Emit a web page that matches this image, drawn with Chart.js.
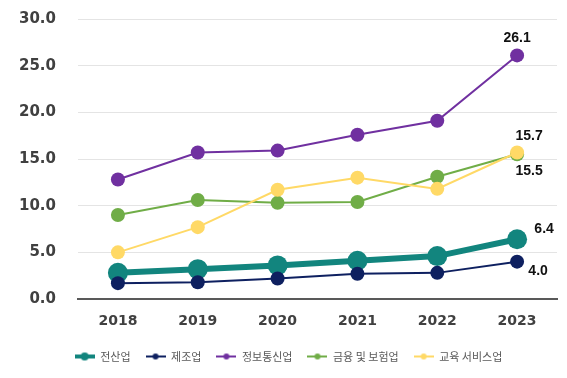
<!DOCTYPE html>
<html><head><meta charset="utf-8">
<script src="https://cdn.jsdelivr.net/npm/chart.js@4.4.0/dist/chart.umd.min.js"></script>
<style>html,body{margin:0;padding:0;background:#fff;}#wrap{width:567px;height:378px;}</style>
</head><body><div id="wrap"><canvas id="c" width="567" height="378"></canvas></div>
<script>
const years = ['2018','2019','2020','2021','2022','2023'];
const seriesNames = ['전산업','제조업','정보통신업','금융 및 보험업','교육 서비스업'];
const allIndustries = [2.8, 3.2, 3.6, 4.1, 4.6, 6.4];
const manufacturing = [1.7, 1.8, 2.2, 2.7, 2.8, 4.0];
const infoComm = [12.8, 15.7, 15.9, 17.6, 19.1, 26.1];
const finance = [9.0, 10.6, 10.3, 10.4, 13.1, 15.5];
const education = [5.0, 7.7, 11.7, 13.0, 11.8, 15.7];
const yTicks = [0, 5, 10, 15, 20, 25, 30];

const colors = ['#12857e', '#0e2060', '#7030a0', '#70ad47', '#ffd966'];
const lineWidths = [6, 2, 2, 2, 2];
const radii = [10, 7, 7, 7, 7];
const values = [allIndustries, manufacturing, infoComm, finance, education];
const labelOffsets = [[27,-10],[21,9],[0,-17],[12,17],[12,-16]];

function legendIcon(color, lw, r){
  const cv = document.createElement('canvas');
  cv.width = 20; cv.height = 10;
  const g = cv.getContext('2d');
  g.strokeStyle = color; g.lineWidth = lw; g.beginPath(); g.moveTo(0,5); g.lineTo(20,5); g.stroke();
  g.fillStyle = color; g.beginPath(); g.arc(10,5,r,0,Math.PI*2); g.fill();
  return cv;
}
const icons = colors.map((c,i)=>legendIcon(c, i===0?4:2, i===0?4:3));

const lastLabels = {
  id:'lastLabels',
  afterDatasetsDraw(chart){
    const ctx = chart.ctx;
    ctx.save();
    ctx.font = 'bold 14px "Liberation Sans", Arial, sans-serif';
    ctx.fillStyle = '#111';
    ctx.textAlign = 'center'; ctx.textBaseline = 'middle';
    chart.data.datasets.forEach((ds,i)=>{
      const meta = chart.getDatasetMeta(i);
      const n = ds.data.length-1;
      const el = meta.data[n];
      const off = labelOffsets[i];
      ctx.fillText(ds.data[n].toFixed(1), el.x+off[0], el.y+off[1]);
    });
    ctx.restore();
  }
};

new Chart(document.getElementById('c'), {
  type:'line',
  data:{
    labels: years,
    datasets: values.map((v,i)=>({
      label: seriesNames[i],
      data: v,
      borderColor: colors[i],
      backgroundColor: colors[i],
      borderWidth: lineWidths[i],
      pointRadius: radii[i],
      pointHoverRadius: radii[i],
      pointBorderWidth: 0,
      pointBackgroundColor: colors[i],
      tension: 0,
      order: 4 - i
    }))
  },
  options:{
    responsive:false,
    animation:false,
    layout:{padding:{left:20,right:10,top:19,bottom:6}},
    plugins:{
      tooltip:{enabled:false},
      legend:{
        position:'bottom',
        labels:{
          usePointStyle:true,
          pointStyleWidth:20,
          boxHeight:10,
          padding:15,
          color:'#595959',
          font:{family:'"Noto Sans CJK KR", sans-serif', size:11},
          generateLabels(chart){
            const items = Chart.defaults.plugins.legend.labels.generateLabels(chart);
            items.forEach(it=>{ it.pointStyle = icons[it.datasetIndex]; });
            return items;
          },
          sort:(a,b)=>a.datasetIndex-b.datasetIndex
        }
      }
    },
    scales:{
      x:{
        offset:true,
        grid:{display:false},
        border:{display:true,color:'#595959',width:2},
        ticks:{color:'#404040',font:{family:'"DejaVu Sans", sans-serif',size:14,weight:'bold'},padding:6},
        afterFit(s){ s.height = 37; }
      },
      y:{
        min:0,max:30,
        afterBuildTicks(s){ s.ticks = yTicks.map(v=>({value:v})); },
        grid:{color:'#e4e4e4',lineWidth:1,drawTicks:false},
        border:{display:false},
        ticks:{color:'#404040',font:{family:'"DejaVu Sans", sans-serif',size:15,weight:'bold'},padding:22,callback:v=>Number(v).toFixed(1)},
        afterFit(s){ s.width = 58; s.paddingTop = 0; s.paddingBottom = 0; }
      }
    }
  },
  plugins:[lastLabels]
});
</script></body></html>
